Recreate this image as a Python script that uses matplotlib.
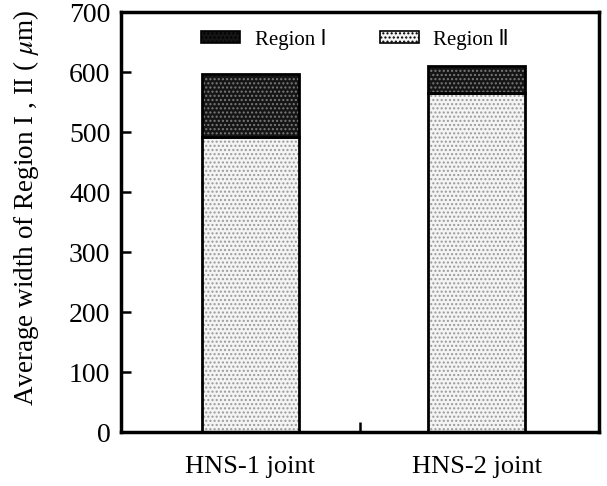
import matplotlib
matplotlib.use('Agg')
import matplotlib.pyplot as plt
from matplotlib.patches import Patch

plt.rcParams['font.family'] = ['Liberation Serif', 'DejaVu Sans']
plt.rcParams['mathtext.fontset'] = 'stix'
plt.rcParams['hatch.linewidth'] = 1.0

joints = ['HNS-1 joint', 'HNS-2 joint']
region2 = [492, 565]
region1 = [105, 45]
yticks = [0, 100, 200, 300, 400, 500, 600, 700]

fig = plt.figure(figsize=(6.07, 4.86), dpi=100)
ax = fig.add_axes([0.200, 0.111, 0.786, 0.864])

pos = [0.54, 1.49]
w = 0.406
# region II: light dotted
ax.bar(pos, region2, w, color='#f4f4f4', linewidth=0)
ax.bar(pos, region2, w, facecolor='none', edgecolor='#9a9a9a', hatch='....', linewidth=0)
ax.bar(pos, region2, w, facecolor='none', edgecolor='black', linewidth=2)
# region I: dark dotted
ax.bar(pos, region1, w, bottom=region2, color='#151515', linewidth=0)
ax.bar(pos, region1, w, bottom=region2, facecolor='none', edgecolor='#7a7a7a', hatch='....', linewidth=0)
ax.bar(pos, region1, w, bottom=region2, facecolor='none', edgecolor='black', linewidth=2)

ax.set_xlim(0, 2)
ax.set_ylim(0, 700)
ax.set_yticks(yticks)
ax.set_yticklabels([str(t) for t in yticks], fontsize=20)
ax.set_xticks([1.0])
ax.set_xticklabels([''])
ax.set_xticks(pos, minor=True)
ax.set_xticklabels(joints, minor=True, fontsize=19)
ax.tick_params(axis='x', which='minor', length=0, pad=17)
ax.tick_params(axis='both', which='major', direction='in', length=7, width=1.8)
ax.tick_params(axis='y', pad=8)
for s in ax.spines.values():
    s.set_linewidth(2.5)

ax.set_ylabel(r'Average width of Region I , II ( $\mu$m)', fontsize=19.5)
ax.yaxis.set_label_coords(-0.168, 0.535)

h1 = Patch(facecolor='#151515', edgecolor='black', hatch='....', linewidth=1.2)
h2 = Patch(facecolor='#f4f4f4', edgecolor='black', hatch='....', linewidth=1.2)
ax.legend([h1, h2], ['Region Ⅰ', 'Region Ⅱ'], loc='upper center', bbox_to_anchor=(0.49, 1.005),
          ncol=2, frameon=False, fontsize=15, handlelength=1.85, handleheight=0.5,
          columnspacing=2.6, handletextpad=0.7)

fig.savefig('out.png', dpi=100)
